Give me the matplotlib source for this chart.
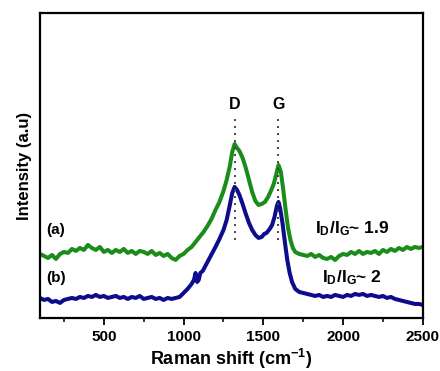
import matplotlib
matplotlib.use('Agg')
import matplotlib.pyplot as plt
from matplotlib.ticker import MultipleLocator

# spectrum (a)
x_a = [100, 125, 150, 175, 200, 225, 250, 275, 300, 325, 350, 375, 400, 425, 450, 475,
       500, 525, 550, 575, 600, 625, 650, 675, 700, 725, 750, 775, 800, 825, 850, 875,
       900, 925, 950, 975, 1000, 1025, 1050, 1075, 1100, 1125, 1150, 1175, 1200, 1225,
       1250, 1270, 1290, 1305, 1320, 1335, 1350, 1370, 1390, 1410, 1430, 1450, 1470,
       1490, 1510, 1530, 1550, 1565, 1580, 1595, 1610, 1625, 1640, 1655, 1670, 1685,
       1700, 1725, 1750, 1775, 1800, 1825, 1850, 1875, 1900, 1925, 1950, 1975, 2000,
       2025, 2050, 2075, 2100, 2125, 2150, 2175, 2200, 2225, 2250, 2275, 2300, 2325,
       2350, 2375, 2400, 2425, 2450, 2475, 2500]
y_a = [64, 62, 60, 63, 59, 64, 66, 65, 69, 67, 70, 68, 73, 70, 68, 71,
       66, 68, 65, 68, 66, 69, 65, 67, 64, 67, 66, 64, 67, 63, 65, 62,
       64, 60, 58, 62, 64, 68, 71, 76, 81, 86, 92, 99, 108, 116,
       127, 138, 152, 166, 174, 170, 167, 160, 150, 138, 126, 117, 113,
       114, 116, 121, 128, 134, 143, 153, 146, 128, 108, 90, 78, 70,
       66, 64, 63, 62, 64, 61, 63, 60, 59, 61, 58, 62, 64,
       63, 66, 64, 67, 64, 66, 65, 67, 64, 68, 66, 69, 67,
       70, 68, 71, 69, 71, 70, 71]

# spectrum (b)
x_b = [100, 125, 150, 175, 200, 225, 250, 275, 300, 325, 350, 375, 400, 425, 450, 475,
       500, 525, 550, 575, 600, 625, 650, 675, 700, 725, 750, 775, 800, 825, 850, 875,
       900, 925, 950, 975, 1000, 1025, 1050, 1065, 1075, 1085, 1095, 1105, 1120, 1140,
       1160, 1180, 1200, 1225, 1250, 1270, 1290, 1305, 1320, 1335, 1350, 1370, 1390,
       1410, 1430, 1450, 1470, 1490, 1505, 1520, 1540, 1555, 1570, 1585, 1595, 1605,
       1620, 1635, 1650, 1665, 1680, 1700, 1725, 1750, 1775, 1800, 1825, 1850, 1875,
       1900, 1925, 1950, 1975, 2000, 2025, 2050, 2075, 2100, 2125, 2150, 2175, 2200,
       2225, 2250, 2275, 2300, 2325, 2350, 2375, 2400, 2425, 2450, 2475, 2500]
y_b = [20, 18, 19, 16, 17, 15, 18, 19, 20, 19, 21, 20, 22, 21, 23, 21,
       22, 20, 21, 22, 20, 21, 19, 21, 20, 22, 19, 20, 21, 19, 20, 18,
       20, 19, 20, 21, 25, 29, 34, 38, 45, 36, 38, 45, 47, 53,
       59, 65, 71, 79, 88, 98, 113, 125, 131, 128, 123, 114, 104,
       95, 88, 83, 80, 81, 84, 85, 89, 93, 101, 112, 116, 110,
       95, 76, 58, 45, 36, 29, 26, 25, 24, 23, 22, 23, 21,
       22, 21, 23, 22, 21, 23, 22, 24, 23, 24, 22, 23, 22,
       21, 22, 20, 21, 19, 18, 17, 16, 15, 14, 14, 13]

peak_pos = [1320, 1595]
peak_names = ['D', 'G']

plt.rcParams['font.family'] = ['Liberation Sans', 'DejaVu Sans']
plt.rcParams['font.weight'] = 'bold'
plt.rcParams['mathtext.fontset'] = 'custom'
plt.rcParams['mathtext.rm'] = 'Liberation Sans:bold'
plt.rcParams['mathtext.bf'] = 'Liberation Sans:bold'
plt.rcParams['mathtext.it'] = 'Liberation Sans:bold'

fig = plt.figure(figsize=(4.4, 3.71), dpi=100)
ax = fig.add_axes([0.091, 0.143, 0.870, 0.822])

ax.plot(x_a, y_a, color='#1a8c1a', lw=2.9)
ax.plot(x_b, y_b, color='#0c0c8c', lw=2.9)

for xp, name in zip(peak_pos, peak_names):
    ax.plot([xp, xp], [78, 200], color='#444444', lw=1.4, linestyle=(0, (1, 2.6)))
    ax.text(xp, 213, name, ha='center', va='center', fontsize=11.5, fontweight='bold')

ax.text(138, 88, '(a)', ha='left', va='center', fontsize=11, fontweight='bold')
ax.text(138, 40, '(b)', ha='left', va='center', fontsize=11, fontweight='bold')
ax.text(2055, 89, r'$\mathrm{I_D/I_G}$~ 1.9', ha='center', va='center', fontsize=12.5)
ax.text(2055, 40, r'$\mathrm{I_D/I_G}$~ 2', ha='center', va='center', fontsize=12.5)

ax.set_xlim(100, 2500)
ax.set_ylim(0, 305)
ax.set_xticks([500, 1000, 1500, 2000, 2500])
ax.xaxis.set_minor_locator(MultipleLocator(250))
ax.set_yticks([])
ax.tick_params(axis='x', which='major', direction='out', length=5, width=1.3, labelsize=11)
ax.tick_params(axis='x', which='minor', direction='out', length=3, width=1.1)
for lbl in ax.get_xticklabels():
    lbl.set_fontweight('bold')
for sp in ax.spines.values():
    sp.set_linewidth(1.6)

ax.set_xlabel(r'Raman shift (cm$^{\mathrm{-1}}$)', fontsize=13, fontweight='bold', labelpad=2)
ax.set_ylabel('Intensity (a.u)', fontsize=12, fontweight='bold', labelpad=6)

fig.savefig('out.png', dpi=100)
